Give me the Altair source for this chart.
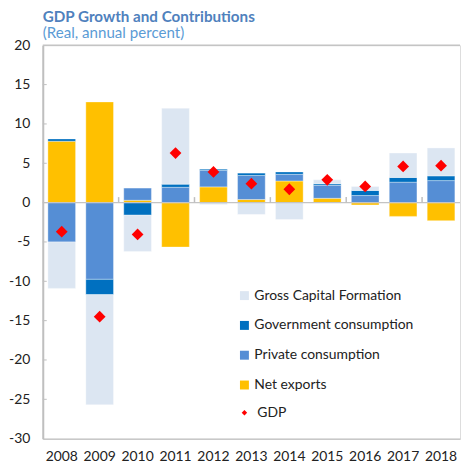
import altair as alt
import pandas as pd

years = ["2008", "2009", "2010", "2011", "2012", "2013", "2014", "2015", "2016", "2017", "2018"]
net_exports = [7.8, 12.8, 0.3, -5.65, 2.0, 0.4, 2.75, 0.55, -0.3, -1.75, -2.3]
private_cons = [-5.0, -9.75, 1.55, 1.95, 2.1, 3.05, 0.85, 1.65, 0.9, 2.6, 2.8]
gov_cons = [0.3, -1.95, -1.6, 0.4, 0.15, 0.3, 0.3, 0.2, 0.65, 0.6, 0.6]
gcf = [-5.9, -14.0, -4.6, 9.65, -0.25, -1.5, -2.15, 0.5, 0.5, 3.1, 3.55]
gdp = [-3.7, -14.5, -4.05, 6.3, 3.9, 2.4, 1.7, 2.9, 2.05, 4.6, 4.7]

components = ["Gross Capital Formation", "Government consumption", "Private consumption", "Net exports"]
colors = ["#dce6f2", "#0070c0", "#558ed5", "#ffc000"]
stack_order = {"Net exports": 0, "Private consumption": 1, "Government consumption": 2, "Gross Capital Formation": 3}
series = {
    "Net exports": net_exports,
    "Private consumption": private_cons,
    "Government consumption": gov_cons,
    "Gross Capital Formation": gcf,
}
y_ticks = [-25, -20, -15, -10, -5, 0, 5, 10, 15]
boundary_years = ["2010", "2012", "2014", "2016", "2018"]

rows = []
for name, vals in series.items():
    for y, v in zip(years, vals):
        rows.append({"year": y, "component": name, "value": v, "ord": stack_order[name]})
bars_df = pd.DataFrame(rows)
gdp_df = pd.DataFrame({"year": years, "gdp": gdp, "series": ["GDP"] * len(years)})
ytick_df = pd.DataFrame({"v": y_ticks})
btick_df = pd.DataFrame({"year": boundary_years})

FONT = "Lato"
W = 420
H = 396
STEP = W / len(years)
xscale = alt.Scale(domain=years, paddingInner=0.27, paddingOuter=0.135)
yscale = alt.Scale(domain=[-30, 20], nice=False, zero=False)

xaxis = alt.Axis(title=None, labelAngle=0, ticks=False, domain=True, domainColor="#c8c8c8",
                 domainWidth=1.5, labelFontSize=14, labelFont=FONT, labelColor="#222222",
                 labelPadding=11)
yaxis = alt.Axis(title=None, tickCount=10, tickMinStep=5, grid=False, labelOverlap=False,
                 labelExpr="'' + datum.value",
                 ticks=False, domainColor="#bfbfbf", domainWidth=2, labelFontSize=14,
                 labelFont=FONT, labelColor="#222222", labelPadding=13)

bars = alt.Chart(bars_df).mark_bar(stroke="white", strokeWidth=0.6, strokeOpacity=0.6).encode(
    x=alt.X("year:N", scale=xscale, sort=years, axis=xaxis),
    y=alt.Y("value:Q", scale=yscale, stack="zero", axis=yaxis),
    color=alt.Color("component:N", scale=alt.Scale(domain=components, range=colors),
                    legend=alt.Legend(title=None, orient="none", legendX=196, legendY=245,
                                      symbolType="square", symbolSize=81, symbolStrokeWidth=0,
                                      labelFont=FONT, labelFontSize=14, labelColor="#222222",
                                      labelLimit=300, rowPadding=16, labelOffset=3)),
    order=alt.Order("ord:Q"),
)

hlines = alt.Chart(pd.DataFrame({"z": [0, 20]})).mark_rule(color="#c4c4c4", strokeWidth=1.5).encode(
    y=alt.Y("z:Q", scale=yscale, axis=yaxis)
)

bticks = alt.Chart(btick_df).mark_rule(color="#bfbfbf", strokeWidth=1.5, xOffset=-STEP / 2).encode(
    x=alt.X("year:N", scale=xscale, sort=years, axis=xaxis),
    y=alt.datum(0, scale=yscale),
    y2=alt.datum(0.7),
)

yticks = alt.Chart(ytick_df).mark_rule(color="#bfbfbf", strokeWidth=1).encode(
    y=alt.Y("v:Q", scale=yscale, axis=yaxis),
    x=alt.value(0),
    x2=alt.value(4),
)

points = alt.Chart(gdp_df).mark_point(filled=True, color="#ff0000", opacity=1, size=140).encode(
    x=alt.X("year:N", scale=xscale, sort=years, axis=xaxis),
    y=alt.Y("gdp:Q", scale=yscale, axis=yaxis),
    shape=alt.Shape("series:N", scale=alt.Scale(domain=["GDP"], range=["diamond"]),
                    legend=alt.Legend(title=None, orient="none", legendX=196, legendY=363,
                                      symbolFillColor="#ff0000", symbolStrokeWidth=0, symbolSize=30,
                                      labelFont=FONT, labelFontSize=14, labelColor="#222222",
                                      labelOffset=6)),
)

chart = alt.layer(bars, hlines, bticks, yticks, points).resolve_scale(color="independent").properties(
    width=W,
    height=H,
    title=alt.TitleParams(
        text="GDP Growth and Contributions",
        subtitle="(Real,  annual percent)",
        anchor="start",
        frame="group",
        font=FONT,
        fontSize=15.3,
        fontWeight="bold",
        color="#4f81bd",
        subtitleFont=FONT,
        subtitleFontSize=15.2,
        subtitleColor="#5b9bd5",
        subtitlePadding=1,
        offset=-3,
    ),
).configure_view(stroke=None).configure_axisY(labelOverlap=False, labelSeparation=0).configure(
    padding={"top": 0, "left": 0, "right": 0, "bottom": 0}
)

chart.save("out.html", embed_options={"renderer": "svg", "actions": False})
